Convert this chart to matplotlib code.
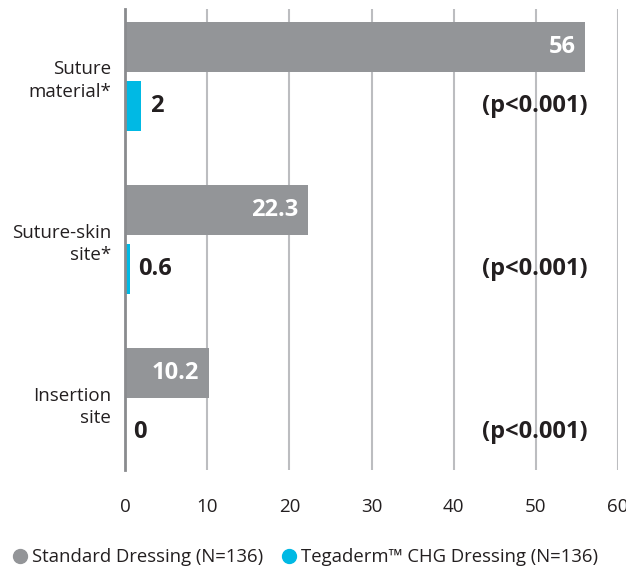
import numpy as np
import matplotlib.pyplot as plt
from matplotlib.lines import Line2D

# chart data
categories = ['Suture\nmaterial*', 'Suture-skin\nsite*', 'Insertion\nsite']
standard = [56, 22.3, 10.2]
tegaderm = [2, 0.6, 0]
standard_labels = ['56', '22.3', '10.2']
tegaderm_labels = ['2', '0.6', '0']
p_values = ['(p<0.001)', '(p<0.001)', '(p<0.001)']
x_ticks = [0, 10, 20, 30, 40, 50, 60]

gray = '#939598'
cyan = '#00B9E4'
dark = '#231F20'

plt.rcParams['font.family'] = ['Open Sans', 'DejaVu Sans']

fig = plt.figure(figsize=(6.26, 5.69), dpi=100)
ax = fig.add_axes([125 / 626, 1 - 470 / 569, 493 / 626, 461 / 569])

y = np.arange(len(categories))
h = 0.307
off = 0.181

ax.barh(y - off, standard, height=h, color=gray, zorder=3)
ax.barh(y + off, tegaderm, height=h, color=cyan, zorder=3)

for i in range(len(categories)):
    ax.annotate(standard_labels[i], (standard[i], y[i] - off), xytext=(-7, 0),
                textcoords='offset points', ha='right', va='center',
                color='white', fontsize=17, fontweight='bold', zorder=4)
    ax.annotate(tegaderm_labels[i], (tegaderm[i], y[i] + off), xytext=(6, 0),
                textcoords='offset points', ha='left', va='center',
                color=dark, fontsize=17, fontweight='bold', zorder=4)
    ax.text(56.3, y[i] + off, p_values[i], ha='right', va='center',
            color=dark, fontsize=17, fontweight='bold', zorder=4)

ax.set_xlim(0, 60)
ax.set_ylim(2.414, -0.414)
ax.set_xticks(x_ticks)
ax.set_yticks(y)
ax.set_yticklabels(categories, ha='right', multialignment='right', linespacing=1.35)
ax.tick_params(axis='both', length=0, labelsize=13.5, labelcolor=dark)
ax.tick_params(axis='x', pad=20)
ax.tick_params(axis='y', pad=10)

ax.grid(axis='x', color='#bcbdc0', linewidth=1.5, zorder=0)
ax.set_axisbelow(True)
for s in ['top', 'right', 'bottom']:
    ax.spines[s].set_visible(False)
ax.spines['left'].set_color('#8a8b8e')
ax.spines['left'].set_linewidth(2)
ax.spines['left'].set_zorder(5)

handles = [
    Line2D([], [], marker='o', linestyle='', markersize=10, color=gray),
    Line2D([], [], marker='o', linestyle='', markersize=10, color=cyan),
]
fig.legend(handles, ['Standard Dressing (N=136)', 'Tegaderm\u2122 CHG Dressing (N=136)'],
           loc='center left', bbox_to_anchor=(0.0, 1 - 557 / 569), ncol=2,
           frameon=False, fontsize=13.3, handletextpad=-0.05, columnspacing=0.7,
           borderaxespad=0, labelcolor=dark, handlelength=1.4)

fig.savefig('out.png', dpi=100)
